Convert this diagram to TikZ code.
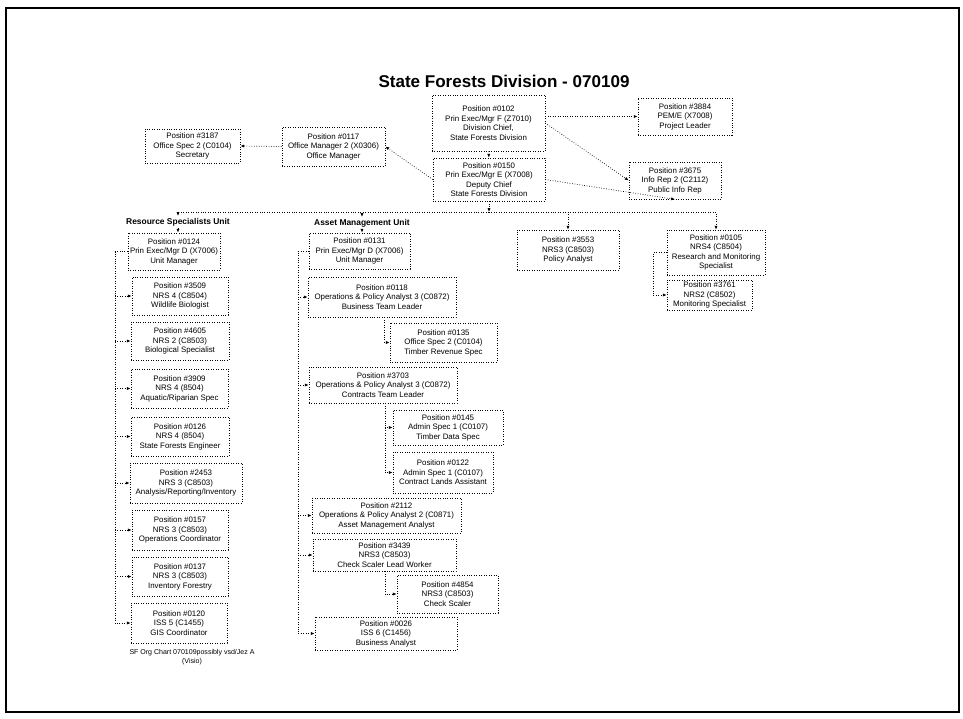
\documentclass[tikz,border=0pt]{standalone}
\usepackage{fontspec}
\setmainfont{Liberation Sans}
\usetikzlibrary{arrows.meta}
\tikzstyle{post} = [rectangle, draw, densely dotted, align=center, inner sep=1pt, font=\fontsize{4.5}{5.4}\selectfont, minimum width=1.92cm, minimum height=0.76cm]
\tikzstyle{unit} = [font=\bfseries\fontsize{4.8}{5.6}\selectfont, inner sep=1pt]
\tikzstyle{line} = [draw, densely dotted, -{Latex[length=2.2pt,width=1.8pt]}]

\begin{document}
\begin{tikzpicture}[x=0.02cm, y=-0.02cm]
			\useasboundingbox (0,0) rectangle (963,718);
			\draw[line width=0.6pt] (6,8) rectangle (959,712);
			\node [font=\bfseries\fontsize{9.7}{11}\selectfont] (title) at (504,81) {State Forests Division - 070109};
			% top of the division
			\node [post, minimum width=2.26cm, minimum height=1.12cm] (p0102) at (488.5,123) {Position \#0102\\Prin Exec/Mgr F (Z7010)\\Division Chief,\\State Forests Division};
			\node [post, minimum width=2.24cm, minimum height=0.86cm] (p0150) at (489,179.5) {Position \#0150\\Prin Exec/Mgr E (X7008)\\Deputy Chief\\State Forests Division};
			\node [post, minimum width=1.88cm, minimum height=0.74cm] (p3884) at (685,116.5) {Position \#3884\\PEM/E (X7008)\\Project Leader};
			\node [post, minimum width=1.84cm, minimum height=0.74cm] (p3675) at (675,180.5) {Position \#3675\\Info Rep 2 (C2112)\\Public Info Rep};
			\node [post, minimum width=2.06cm, minimum height=0.78cm] (p0117) at (333.5,146.5) {Position \#0117\\Office Manager 2 (X0306)\\Office Manager};
			\node [post, minimum width=1.9cm, minimum height=0.68cm] (p3187) at (192.5,146) {Position \#3187\\Office Spec 2 (C0104)\\Secretary};
			\node [unit] (rsu) at (178,222) {Resource Specialists Unit};
			\node [unit] (amu) at (362,223) {Asset Management Unit};
			% resource specialists unit
			\node [post, minimum width=1.84cm, minimum height=0.74cm] (p0124) at (174,251.5) {Position \#0124\\Prin Exec/Mgr D (X7006)\\Unit Manager};
			\node [post] (p3509) at (180,296) {Position \#3509\\NRS 4 (C8504)\\Wildlife Biologist};
			\node [post, minimum width=1.96cm] (p4605) at (180,341) {Position \#4605\\NRS 2 (C8503)\\Biological Specialist};
			\node [post, minimum width=1.94cm, minimum height=0.78cm] (p3909) at (179.5,388.5) {Position \#3909\\NRS 4 (8504)\\Aquatic/Riparian Spec};
			\node [post, minimum width=1.96cm, minimum height=0.78cm] (p0126) at (180,436.5) {Position \#0126\\NRS 4 (8504)\\State Forests Engineer};
			\node [post, minimum width=2.24cm, minimum height=0.8cm] (p2453) at (186,483) {Position \#2453\\NRS 3 (C8503)\\Analysis/Reporting/Inventory};
			\node [post, minimum height=0.8cm] (p0157) at (180,530) {Position \#0157\\NRS 3 (C8503)\\Operations Coordinator};
			\node [post, minimum height=0.78cm] (p0137) at (180,576.5) {Position \#0137\\NRS 3 (C8503)\\Inventory Forestry};
			\node [post, minimum height=0.8cm] (p0120) at (179,623) {Position \#0120\\ISS 5 (C1455)\\GIS Coordinator};
			\node [align=center, inner sep=0pt, font=\fontsize{4}{5}\selectfont] (note) at (192,657) {SF Org Chart 070109possibly vsd/Jez A\\(Visio)};
			% asset management unit
			\node [post, minimum width=2.02cm, minimum height=0.72cm] (p0131) at (359.5,251) {Position \#0131\\Prin Exec/Mgr D (X7006)\\Unit Manager};
			\node [post, minimum width=2.96cm, minimum height=0.8cm] (p0118) at (382,297) {Position \#0118\\Operations \& Policy Analyst 3 (C0872)\\Business Team Leader};
			\node [post, minimum width=2.14cm, minimum height=0.78cm] (p0135) at (443.5,342.5) {Position \#0135\\Office Spec 2 (C0104)\\Timber Revenue Spec};
			\node [post, minimum width=2.96cm, minimum height=0.72cm] (p3703) at (383,385) {Position \#3703\\Operations \& Policy Analyst 3 (C0872)\\Contracts Team Leader};
			\node [post, minimum width=2.2cm, minimum height=0.7cm] (p0145) at (448,427.5) {Position \#0145\\Admin Spec 1 (C0107)\\Timber Data Spec};
			\node [post, minimum width=2cm, minimum height=0.82cm] (p0122) at (443,472.5) {Position \#0122\\Admin Spec 1 (C0107)\\Contract Lands Assistant};
			\node [post, minimum width=2.98cm, minimum height=0.7cm] (p2112) at (386.5,515.5) {Position \#2112\\Operations \& Policy Analyst 2 (C0871)\\Asset Management Analyst};
			\node [post, minimum width=2.86cm, minimum height=0.64cm] (p3439) at (384.5,555) {Position \#3439\\NRS3 (C8503)\\Check Scaler Lead Worker};
			\node [post, minimum width=2.02cm] (p4854) at (447.5,594) {Position \#4854\\NRS3 (C8503)\\Check Scaler};
			\node [post, minimum width=2.84cm, minimum height=0.66cm] (p0026) at (386,633.5) {Position \#0026\\ISS 6 (C1456)\\Business Analyst};
			% stand-alone positions
			\node [post, minimum width=2.04cm, minimum height=0.8cm] (p3553) at (568,250) {Position \#3553\\NRS3 (C8503)\\Policy Analyst};
			\node [post, minimum width=1.96cm, minimum height=0.9cm] (p0105) at (716,252.5) {Position \#0105\\NRS4 (C8504)\\Research and Monitoring\\Specialist};
			\node [post, minimum width=1.7cm, minimum height=0.6cm] (p3761) at (709.5,295) {Position \#3761\\NRS2 (C8502)\\Monitoring Specialist};
			\coordinate (bus) at (489,212);
			\coordinate (lsp) at (115,623);
			\coordinate (msp) at (298,633.5);
			\coordinate (s1) at (384,342.5);
			\coordinate (s2) at (385,472.5);
			\coordinate (s3) at (385,594);
			\coordinate (s4) at (653,295);
			\path [line] (p0102) -- (p0150);
			\path [line] (p0102.east |- p3884.west) -- (p3884.west);
			\path [line] (p0102.east) -- (p3675.west);
			\path [line] (p0150.east) -- (p3675.south);
			\path [line] (p0150.west) -- (p0117.east);
			\path [line] (p0117.west) -- (p3187.east);
			\path [line] (p0150.south) -- (bus);
			\foreach \n in {rsu,amu,p3553,p0105}
				\path [line] (bus) -| (\n.north);
			\path [line] (rsu.south) -- (rsu.south |- p0124.north);
			\path [line] (amu.south) -- (amu.south |- p0131.north);
			\path [line] (p0124.west) -| (lsp) -- (p0120.west);
			\foreach \n in {p3509,p4605,p3909,p0126,p2453,p0157,p0137}
				\path [line] (lsp |- \n.west) -- (\n.west);
			\path [line] (p0131.west) -| (msp) -- (p0026.west);
			\foreach \n in {p0118,p3703,p2112,p3439}
				\path [line] (msp |- \n.west) -- (\n.west);
			\path [line] (s1 |- p0118.south) -- (s1) -- (p0135.west);
			\path [line] (s2 |- p3703.south) -- (s2) -- (p0122.west);
			\path [line] (s2 |- p0145.west) -- (p0145.west);
			\path [line] (s3 |- p3439.south) -- (s3) -- (p4854.west);
			\path [line] (p0105.west) -| (s4) -- (p3761.west);
		\end{tikzpicture}
\end{document}
